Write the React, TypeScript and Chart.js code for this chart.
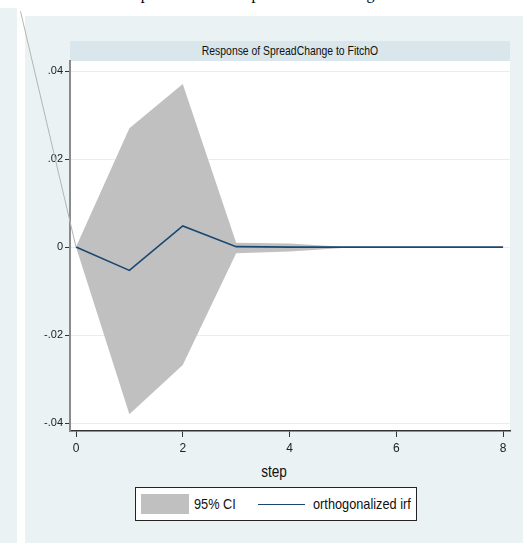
import React, { useEffect, useRef } from "react";
import { Chart, registerables } from "chart.js";
Chart.register(...registerables);

const steps = [0, 1, 2, 3, 4, 5, 6, 7, 8];
const ciUpper = [0, 0.027, 0.0371, 0.001, 0.0008, 0.0001, 0, 0, 0];
const ciLower = [0, -0.038, -0.0268, -0.0014, -0.001, -0.0002, 0, 0, 0];
const irf = [0, -0.0053, 0.0048, 0.0001, 0, 0, 0, 0, 0];
const strayX = [-1.04, 0];
const strayY = [0.0536, 0];
const yTicks = [-0.04, -0.02, 0, 0.02, 0.04];
const yTickLabels = ["-.04", "-.02", "0", ".02", ".04"];
const xTicks = [0, 2, 4, 6, 8];
const xTickLabels = ["0", "2", "4", "6", "8"];

const NARROW = "'Liberation Sans Narrow', 'Arial Narrow', 'Liberation Sans', Arial, sans-serif";
const PANEL = "#eaf2f3";
const BAND = "#d9e6eb";

export default function App() {
  const ref = useRef<HTMLCanvasElement | null>(null);
  useEffect(() => {
    if (!ref.current) return;
    const pts = (xs: number[], ys: number[]) => xs.map((x, i) => ({ x, y: ys[i] }));
    const whiteArea = {
      id: "whiteArea",
      beforeDraw(chart: any) {
        const { ctx, chartArea: a } = chart;
        ctx.save();
        ctx.fillStyle = "#ffffff";
        ctx.fillRect(a.left, a.top, a.right - a.left, a.bottom - a.top);
        ctx.restore();
      },
    };
    const chart = new Chart(ref.current, {
      type: "line",
      data: {
        datasets: [
          {
            label: "stray",
            data: pts(strayX, strayY),
            borderColor: "#b4b4b4",
            borderWidth: 1,
            pointRadius: 0,
            fill: false,
            clip: false as any,
            order: 0,
          },
          {
            label: "orthogonalized irf",
            data: pts(steps, irf),
            borderColor: "#1a476f",
            borderWidth: 1.6,
            pointRadius: 0,
            fill: false,
            order: 1,
          },
          {
            label: "lower",
            data: pts(steps, ciLower),
            borderWidth: 0,
            borderColor: "rgba(0,0,0,0)",
            pointRadius: 0,
            fill: false,
            order: 3,
          },
          {
            label: "95% CI",
            data: pts(steps, ciUpper),
            borderWidth: 0,
            borderColor: "rgba(0,0,0,0)",
            backgroundColor: "#c0c0c0",
            pointRadius: 0,
            fill: "-1",
            order: 2,
          },
        ],
      },
      options: {
        animation: false,
        responsive: false,
        maintainAspectRatio: false,
        layout: { padding: { left: 25, top: 61, right: 13, bottom: 82 } },
        plugins: { legend: { display: false }, tooltip: { enabled: false }, title: { display: false } },
        elements: { line: { tension: 0 } },
        scales: {
          x: {
            type: "linear",
            min: -0.1125,
            max: 8.13,
            afterFit(s: any) { s.height = 30; },
            afterBuildTicks(s: any) { s.ticks = xTicks.map((v) => ({ value: v })); },
            ticks: {
              callback: (v: any) => xTickLabels[xTicks.indexOf(Number(v))] ?? "",
              color: "#222",
              font: { family: NARROW, size: 12 },
              padding: 4,
              maxRotation: 0,
            },
            grid: { drawOnChartArea: false, drawTicks: true, tickLength: 6, tickColor: "#333", tickWidth: 1 },
            border: { display: true, color: "#333", width: 1.5 },
          },
          y: {
            type: "linear",
            min: -0.0418,
            max: 0.0423,
            afterFit(s: any) { s.width = 45; },
            afterBuildTicks(s: any) { s.ticks = yTicks.map((v) => ({ value: v })); },
            ticks: {
              callback: (v: any) => {
                const i = yTicks.findIndex((t) => Math.abs(t - Number(v)) < 1e-9);
                return i >= 0 ? yTickLabels[i] : "";
              },
              color: "#222",
              font: { family: NARROW, size: 11 },
              padding: 2,
            },
            grid: { color: "#e6eef0", lineWidth: 1, drawTicks: true, tickLength: 5, tickColor: "#333", tickWidth: 1 },
            border: { display: true, color: "#8a8a8a", width: 2 },
          },
        },
      },
      plugins: [whiteArea],
    } as any);
    return () => chart.destroy();
  }, []);

  const narrowText = (origin: string, k = 0.8): React.CSSProperties => ({
    transform: `scaleX(${k})`,
    transformOrigin: origin,
    whiteSpace: "nowrap",
  });

  return (
    <div style={{ position: "fixed", left: 0, top: 0, width: 523, height: 543, background: "#fff", overflow: "hidden" }}>
      <div
        style={{
          position: "absolute", left: 123, top: -14, whiteSpace: "nowrap",
          fontFamily: "'Liberation Serif', 'Times New Roman', serif", fontSize: 16, lineHeight: "16px", color: "#000",
        }}
      >
        Impulse of Fitch response on the change
      </div>
      <div style={{ position: "absolute", left: 0, top: 8, width: 17, height: 535, background: PANEL }} />
      <div style={{ position: "absolute", left: 25, top: 16, width: 498, height: 527, background: PANEL }} />
      <div
        style={{
          position: "absolute", left: 70, top: 41, width: 440, height: 20, background: BAND,
          fontFamily: NARROW, fontSize: 13, lineHeight: "20px", textAlign: "center", color: "#111",
        }}
      >
        <div style={narrowText("center")}>Response of SpreadChange to FitchO</div>
      </div>
      <div
        style={{
          position: "absolute", left: 25, width: 498, top: 462, textAlign: "center",
          fontFamily: NARROW, fontSize: 17, lineHeight: "20px", color: "#111",
        }}
      >
        <div style={narrowText("center")}>step</div>
      </div>
      <div
        style={{
          position: "absolute", left: 135, top: 487, width: 280, height: 32, background: "#fff",
          border: "1px solid #222", fontFamily: NARROW, fontSize: 15, color: "#111",
        }}
      >
        <div style={{ position: "absolute", left: 5, top: 6, width: 48, height: 20, background: "#c0c0c0" }} />
        <div style={{ position: "absolute", left: 58, top: 0, lineHeight: "32px", ...narrowText("left", 0.85) }}>95% CI</div>
        <div style={{ position: "absolute", left: 122, top: 16, width: 47, height: 0, borderTop: "1.6px solid #1a476f" }} />
        <div style={{ position: "absolute", left: 177, top: 0, lineHeight: "32px", ...narrowText("left", 0.85) }}>orthogonalized irf</div>
      </div>
      <canvas ref={ref} width={523} height={543} style={{ position: "absolute", left: 0, top: 0, width: 523, height: 543, pointerEvents: "none" }} />
    </div>
  );
}
